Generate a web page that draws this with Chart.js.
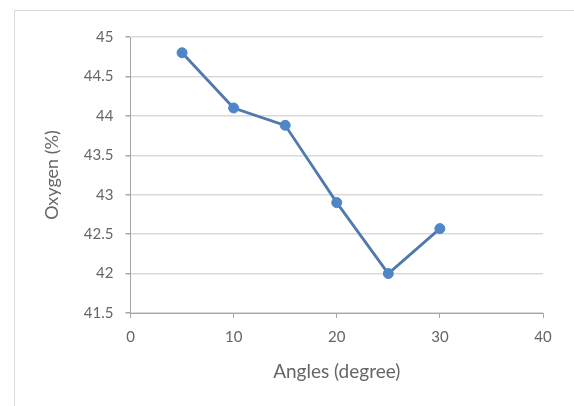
<!DOCTYPE html>
<html>
<head>
<meta charset="utf-8">
<script src="https://cdn.jsdelivr.net/npm/chart.js@4/dist/chart.umd.min.js"></script>
<style>
  html, body { margin: 0; padding: 0; background: #ffffff; }
  #wrap { width: 574px; height: 406px; position: relative; }
</style>
</head>
<body>
<div id="wrap"><canvas id="chart" width="574" height="406"></canvas></div>
<script>
// Oxygen content measured at each angle
const angles = [5, 10, 15, 20, 25, 30];
const oxygen = [44.8, 44.1, 43.88, 42.9, 42.0, 42.57];

// Axis tick values
const xTicks = [0, 10, 20, 30, 40];
const yTicks = [41.5, 42, 42.5, 43, 43.5, 44, 44.5, 45];

const textColor = '#666666';
const gridColor = '#d9d9d9';
const axisColor = '#a6a6a6';
const fontFamily = 'Lato, "Open Sans", sans-serif';

// Light outer frame around the chart
const framePlugin = {
  id: 'frame',
  beforeDraw(chart) {
    const ctx = chart.ctx;
    ctx.save();
    ctx.fillStyle = '#ffffff';
    ctx.fillRect(0, 0, chart.width, chart.height);
    ctx.strokeStyle = '#d9d9d9';
    ctx.lineWidth = 1;
    ctx.beginPath();
    ctx.moveTo(14.5, chart.height);
    ctx.lineTo(14.5, 10.5);
    ctx.lineTo(chart.width, 10.5);
    ctx.stroke();
    ctx.restore();
  }
};

new Chart(document.getElementById('chart'), {
  type: 'line',
  data: {
    datasets: [{
      data: angles.map((a, i) => ({ x: a, y: oxygen[i] })),
      borderColor: '#5079ad',
      borderWidth: 2.8,
      backgroundColor: '#4f86c8',
      pointBackgroundColor: '#4f86c8',
      pointBorderColor: '#4f86c8',
      pointRadius: 5,
      pointBorderWidth: 1,
      tension: 0,
      fill: false
    }]
  },
  options: {
    responsive: false,
    animation: false,
    devicePixelRatio: 1,
    layout: { padding: { left: 40, right: 31, top: 37, bottom: 20 } },
    plugins: {
      legend: { display: false },
      tooltip: { enabled: false }
    },
    scales: {
      x: {
        type: 'linear',
        min: 0,
        max: 40,
        afterBuildTicks(scale) { scale.ticks = xTicks.map(v => ({ value: v })); },
        afterFit(scale) { scale.height = 73; },
        grid: {
          display: true,
          drawOnChartArea: false,
          drawTicks: true,
          tickLength: 5,
          tickColor: axisColor
        },
        border: { display: true, color: axisColor, width: 1 },
        ticks: {
          color: textColor,
          font: { family: fontFamily, size: 15 },
          padding: 10,
          callback: v => String(v)
        },
        title: {
          display: true,
          text: 'Angles (degree)',
          color: textColor,
          font: { family: fontFamily, size: 19 },
          padding: { top: 4, bottom: 3 }
        }
      },
      y: {
        type: 'linear',
        min: 41.5,
        max: 45,
        afterBuildTicks(scale) { scale.ticks = yTicks.map(v => ({ value: v })); },
        afterFit(scale) { scale.width = 90.5; },
        grid: {
          display: true,
          color: gridColor,
          lineWidth: 1.5,
          drawTicks: true,
          tickLength: 5,
          tickColor: axisColor
        },
        border: { display: true, color: axisColor, width: 1 },
        ticks: {
          color: textColor,
          font: { family: fontFamily, size: 15 },
          padding: 12,
          callback: v => String(v)
        },
        title: {
          display: true,
          text: 'Oxygen (%)',
          color: textColor,
          font: { family: fontFamily, size: 18 },
          padding: { top: 1, bottom: 1 }
        }
      }
    }
  },
  plugins: [framePlugin]
});
</script>
</body>
</html>
